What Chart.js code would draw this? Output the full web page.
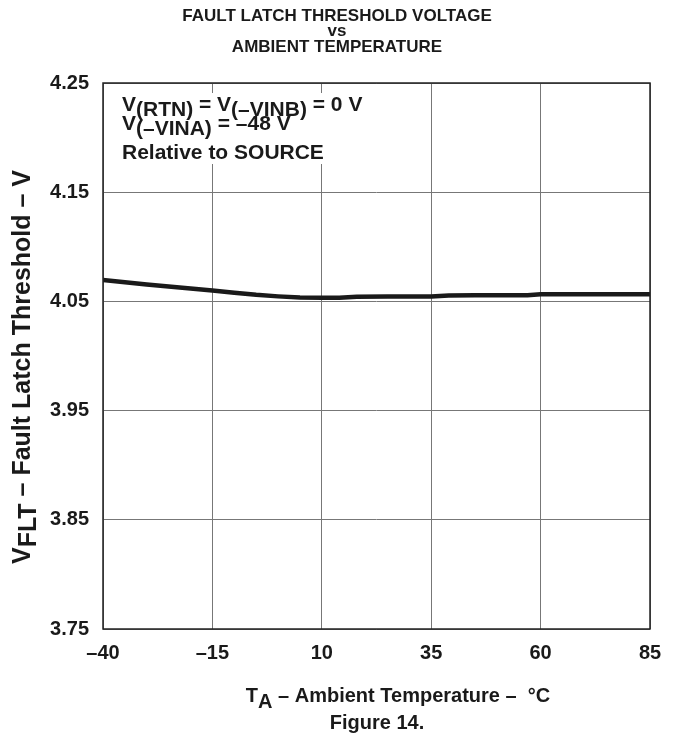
<!DOCTYPE html>
<html>
<head>
<meta charset="utf-8">
<script src="https://cdn.jsdelivr.net/npm/chart.js@4.4.0/dist/chart.umd.min.js"></script>
<style>
  html, body { margin: 0; padding: 0; background: #fff; }
  #wrap { width: 674px; height: 738px; position: relative; }
</style>
</head>
<body>
<div id="wrap"><canvas id="chart" width="674" height="738"></canvas></div>
<script>
// temperature (°C) and threshold (V)
var temps = [-40, -30, -20, -15, -10, -5, 0, 5, 10, 14, 18, 25, 35, 39, 45, 57, 60, 70, 85];
var thresh = [4.0695, 4.0655, 4.0618, 4.0600, 4.0580, 4.0560, 4.0546, 4.0536, 4.0533, 4.0533, 4.0543, 4.0544, 4.0545, 4.0555, 4.0556, 4.0557, 4.0565, 4.0565, 4.0565];
var xTicks = [-40, -15, 10, 35, 60, 85];
var yTicks = [3.75, 3.85, 3.95, 4.05, 4.15, 4.25];
var titleLines = ['FAULT LATCH THRESHOLD VOLTAGE', 'vs', 'AMBIENT TEMPERATURE'];

var fontMain = '"Liberation Sans", Arial, sans-serif';

// draws a run of [text, isSub] pieces starting at x
function drawRuns(ctx, runs, x, y, size, subSize, subDrop) {
    runs.forEach(function (r) {
        var sz = r[1] ? subSize : size;
        ctx.font = 'bold ' + sz + 'px ' + fontMain;
        ctx.fillText(r[0], x, y + (r[1] ? subDrop : 0));
        x += ctx.measureText(r[0]).width;
    });
    return x;
}
function runsWidth(ctx, runs, size, subSize) {
    var w = 0;
    runs.forEach(function (r) {
        ctx.font = 'bold ' + (r[1] ? subSize : size) + 'px ' + fontMain;
        w += ctx.measureText(r[0]).width;
    });
    return w;
}

var textPlugin = {
    id: 'texts',
    beforeDatasetsDraw: function (chart) {
        var ctx = chart.ctx;
        ctx.save();
        // white box behind the conditions note
        ctx.fillStyle = '#fff';
        ctx.fillRect(116, 93, 266, 71);
        ctx.fillStyle = '#1a1a1a';
        ctx.textBaseline = 'alphabetic';
        ctx.textAlign = 'left';
        drawRuns(ctx, [['V', false], ['(RTN)', true], [' = V', false], ['(\u2013VINB)', true], [' = 0 V', false]], 122, 111, 21, 21, 5);
        drawRuns(ctx, [['V', false], ['(\u2013VINA)', true], [' = \u201348 V', false]], 122, 130, 21, 21, 5);
        drawRuns(ctx, [['Relative to SOURCE', false]], 122, 159, 21, 21, 0);
        ctx.restore();
    },
    afterDraw: function (chart) {
        var ctx = chart.ctx;
        var a = chart.chartArea;
        ctx.save();
        // frame
        ctx.strokeStyle = '#222';
        ctx.lineWidth = 1.5;
        ctx.strokeRect(a.left, a.top, a.right - a.left, a.bottom - a.top);

        ctx.fillStyle = '#1a1a1a';
        ctx.textAlign = 'center';
        ctx.textBaseline = 'middle';
        ctx.font = 'bold 17px ' + fontMain;
        ctx.fillText(titleLines[0], 337, 16);
        ctx.fillText(titleLines[1], 337, 31);
        ctx.fillText(titleLines[2], 337, 47);

        // x axis title
        ctx.textAlign = 'left';
        ctx.textBaseline = 'alphabetic';
        var xr = [['T', false], ['A', true], [' \u2013 Ambient Temperature \u2013  \u00B0C', false]];
        var w = runsWidth(ctx, xr, 20, 20);
        drawRuns(ctx, xr, 398 - w / 2, 702, 20, 20, 6);
        ctx.textAlign = 'center';
        ctx.font = 'bold 20px ' + fontMain;
        ctx.fillText('Figure 14.', 377, 729);

        // y axis title
        ctx.translate(30, 367);
        ctx.rotate(-Math.PI / 2);
        ctx.textAlign = 'left';
        var yr = [['V', false], ['FLT', true], [' \u2013 Fault Latch Threshold \u2013 V', false]];
        var wy = runsWidth(ctx, yr, 25, 25);
        drawRuns(ctx, yr, -wy / 2, 0, 25, 25, 6);
        ctx.restore();
    }
};

var ctx = document.getElementById('chart');
var chart = new Chart(ctx, {
    type: 'line',
    data: {
        datasets: [{
            data: temps.map(function (t, i) { return { x: t, y: thresh[i] }; }),
            borderColor: '#1a1a1a',
            borderWidth: 4.5,
            pointRadius: 0,
            tension: 0,
            fill: false
        }]
    },
    options: {
        responsive: false,
        animation: false,
        devicePixelRatio: 1,
        layout: { padding: { top: 83, right: 24, bottom: 69, left: 0 } },
        plugins: {
            legend: { display: false },
            title: { display: false },
            tooltip: { enabled: false }
        },
        scales: {
            x: {
                type: 'linear',
                min: -40,
                max: 85,
                afterBuildTicks: function (scale) {
                    scale.ticks = xTicks.map(function (v) { return { value: v }; });
                },
                afterFit: function (scale) { scale.height = 40; },
                grid: { color: '#777', lineWidth: 1, drawTicks: false },
                border: { display: false },
                ticks: {
                    padding: 12,
                    color: '#1a1a1a',
                    font: { family: fontMain, size: 20, weight: 'bold' },
                    callback: function (v) { return String(v).replace('-', '\u2013'); }
                }
            },
            y: {
                min: 3.75,
                max: 4.25,
                afterBuildTicks: function (scale) {
                    scale.ticks = yTicks.map(function (v) { return { value: v }; });
                },
                afterFit: function (scale) { scale.width = 103; },
                grid: { color: '#777', lineWidth: 1, drawTicks: false },
                border: { display: false },
                ticks: {
                    padding: 14,
                    color: '#1a1a1a',
                    font: { family: fontMain, size: 20, weight: 'bold' },
                    callback: function (v) { return Number(v).toFixed(2); }
                }
            }
        }
    },
    plugins: [textPlugin]
});
</script>
</body>
</html>
